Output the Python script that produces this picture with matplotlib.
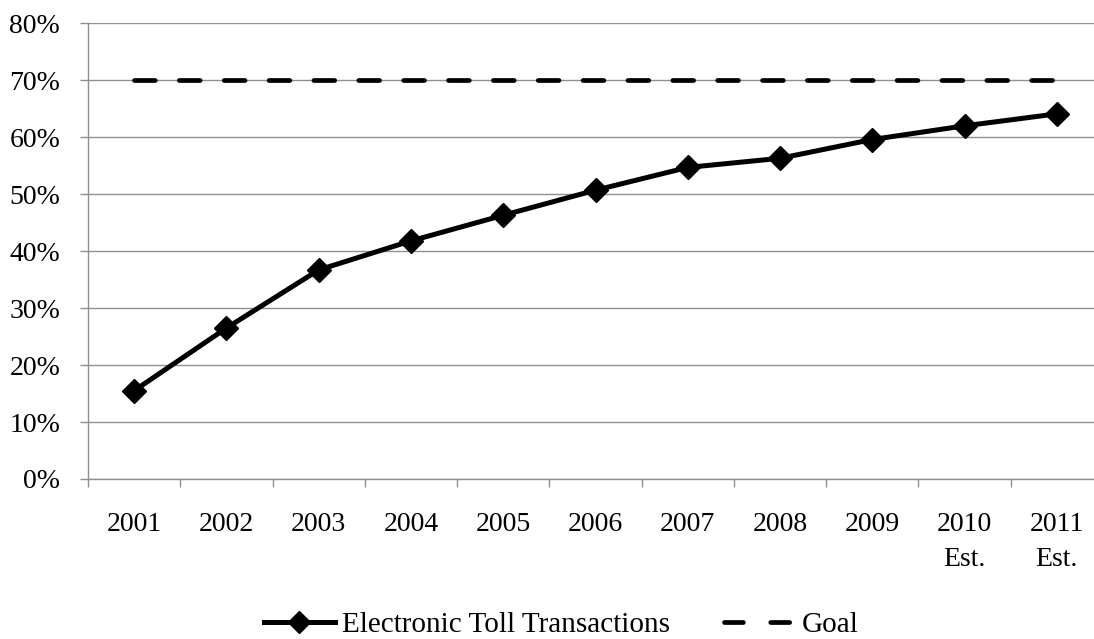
import matplotlib
matplotlib.use("Agg")
import matplotlib.pyplot as plt
from matplotlib.ticker import FixedLocator, FuncFormatter
from matplotlib.lines import Line2D

# Share of toll transactions paid electronically, by year (percent)
years = ["2001", "2002", "2003", "2004", "2005", "2006", "2007", "2008",
         "2009", "2010\nEst.", "2011\nEst."]
electronic_share = [15.5, 26.5, 36.7, 41.8, 46.3, 50.7, 54.7, 56.3, 59.6, 62.0, 64.1]
goal_share = [70] * len(years)

y_ticks = list(range(0, 81, 10))

plt.rcParams["font.family"] = ["Liberation Serif", "DejaVu Serif"]
plt.rcParams["font.size"] = 20

W, H = 1094, 639
fig = plt.figure(figsize=(W / 100, H / 100), dpi=100)
ax = fig.add_axes([88 / W, 160 / H, (1103 - 88) / W, (615.7 - 160) / H])

x = list(range(len(years)))
grid_col = "#8f8f8f"

ax.plot(x, goal_share, color="black", lw=3.4, dashes=(4.4, 5.1),
        dash_capstyle="round", solid_capstyle="round", zorder=3)
ax.plot(x, electronic_share, color="black", lw=3.6, marker="D", ms=12,
        mew=1.0, solid_joinstyle="round", zorder=4)

ax.set_xlim(-0.5, len(years) - 0.5)
ax.set_ylim(0, 80)

# y axis: percentages with horizontal gridlines
ax.set_yticks(y_ticks)
ax.yaxis.set_major_formatter(FuncFormatter(lambda v, _: f"{v:.0f}%"))
ax.grid(axis="y", color=grid_col, lw=1.0)
ax.set_axisbelow(True)
ax.tick_params(axis="y", length=6, width=1.0, color=grid_col, pad=14,
               labelcolor="black", labelsize=20)

# x axis: tick marks between categories, labels centred on categories
ax.xaxis.set_major_locator(FixedLocator([i - 0.5 for i in range(len(years) + 1)]))
ax.xaxis.set_minor_locator(FixedLocator(x))
ax.set_xticklabels([], minor=False)
ax.set_xticklabels(years, minor=True, linespacing=1.5)
ax.tick_params(axis="x", which="major", length=5.5, width=1.0, color=grid_col)
ax.tick_params(axis="x", which="minor", length=0, pad=24, labelsize=20)

for side in ("top", "right"):
    ax.spines[side].set_visible(False)
ax.spines["left"].set_color(grid_col)
ax.spines["left"].set_linewidth(1.0)
ax.spines["bottom"].set_color(grid_col)
ax.spines["bottom"].set_linewidth(1.0)

handles = [
    Line2D([], [], color="black", lw=3.6, marker="D", ms=11, mew=1.0),
    Line2D([], [], color="black", lw=3.4, dashes=(4.0, 5.8),
           dash_capstyle="round"),
]
fig.legend(handles, ["Electronic Toll Transactions", "Goal"],
           loc="center", bbox_to_anchor=(561 / W, 1 - 625 / H), ncol=2,
           frameon=False, handlelength=2.43, handletextpad=0.24,
           columnspacing=1.85, fontsize=21)

fig.savefig("out.png", dpi=100)
